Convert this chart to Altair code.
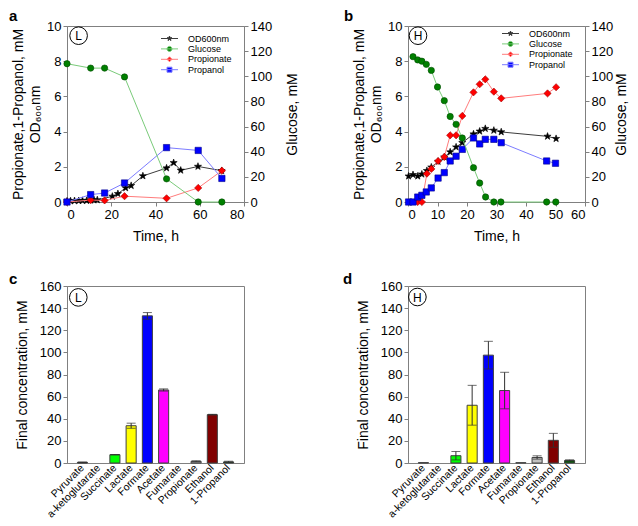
import altair as alt
import pandas as pd

FONT = "Liberation Sans"

# ---------------- data: panel a (L) ----------------
a_od_time = [0, 1.6, 3.4, 5.3, 7.0, 8.9, 10.7, 12.2, 13.7, 20.5, 23.0, 26.5, 29.0, 34.3, 45.0, 48.2, 51.4, 59.2, 69.9]
a_od = [0.05, 0.06, 0.07, 0.07, 0.08, 0.08, 0.10, 0.11, 0.12, 0.32, 0.47, 0.80, 0.93, 1.48, 1.93, 2.23, 1.80, 2.02, 1.78]
a_time = [0, 10.7, 17.0, 26.0, 45.0, 59.3, 70.0]
a_glucose = [110.0, 106.5, 106.5, 99.5, 18.4, 0, 0]
a_propionate = [0, 0.11, 0.09, 0.33, 0.21, 0.80, 1.78]
a_propanol = [0, 0.42, 0.51, 1.08, 3.09, 2.93, 1.34]

# ---------------- data: panel b (H) ----------------
b_od_time = [0.2, 1.7, 3.3, 4.7, 6.4, 7.9, 10.2, 12.3, 14.3, 16.3, 18.4, 22.2, 24.3, 26.2, 29.1, 31.6, 47.3, 50.2]
b_od = [1.47, 1.55, 1.47, 1.58, 1.78, 1.98, 2.30, 2.55, 2.84, 3.12, 3.37, 3.86, 4.02, 4.17, 4.07, 3.98, 3.73, 3.60]
b_glucose_time = [1.7, 3.3, 4.7, 6.2, 7.9, 10.0, 12.3, 14.3, 16.3, 18.4, 22.2, 24.3, 26.3, 29.1, 31.5, 47.0, 50.1]
b_glucose = [115.6, 113.0, 112.0, 109.5, 104.7, 91.5, 80.6, 68.0, 61.8, 50.9, 27.3, 15.1, 4.0, 0, 0, 0, 0]
b_propionate_time = [3.3, 4.7, 6.4, 7.9, 10.2, 12.3, 14.3, 16.3, 18.4, 22.2, 24.3, 26.2, 29.1, 31.6, 47.3, 50.2]
b_propionate = [0, 0, 1.61, 1.88, 2.33, 2.56, 3.79, 3.79, 4.89, 6.23, 6.69, 6.97, 6.27, 5.89, 6.17, 6.52]
b_propanol_time = [0.2, 1.7, 3.3, 4.7, 6.2, 7.9, 10.2, 12.3, 14.3, 16.3, 18.4, 22.2, 24.3, 26.2, 29.1, 31.6, 47.0, 50.0]
b_propanol = [0, 0, 0.28, 0.38, 0.57, 0.80, 1.36, 1.67, 2.33, 2.60, 2.99, 3.64, 3.30, 3.56, 3.56, 3.37, 2.33, 2.20]

# ---------------- data: panels c / d ----------------
categories = ["Pyruvate", "a-ketoglutarate", "Succinate", "Lactate", "Formate",
              "Acetate", "Fumarate", "Propionate", "Ethanol", "1-Propanol"]
c_values = [0.6, 0, 7.5, 33.7, 133.0, 66.0, 0, 1.5, 43.7, 1.0]
c_errors = [0.3, 0, 0.2, 2.3, 3.0, 1.0, 0, 0.5, 0.3, 0.6]
d_values = [0.3, 0, 6.6, 52.2, 97.5, 65.5, 0.3, 5.0, 20.5, 2.3]
d_errors = [0, 0, 3.8, 18.0, 12.5, 16.5, 0, 1.5, 6.3, 0.6]
bar_colors = ["#000000", "#ffffff", "#00ff00", "#ffff00", "#0000ff",
              "#ff00ff", "#ffffff", "#c0c0c0", "#800000", "#006400"]

# ---------------- styles ----------------
series = ["OD600nm", "Glucose", "Propionate", "Propanol"]
STAR = ("M0,-1L0.235,-0.324L0.951,-0.309L0.38,0.124L0.588,0.809L0,0.4"
        "L-0.588,0.809L-0.38,0.124L-0.951,-0.309L-0.235,-0.324Z")
CIRCLE = "M1,0A1,1,0,1,1,-1,0A1,1,0,1,1,1,0Z"
DIAMOND = "M-1,0L0,-1L1,0L0,1Z"
SQUARE = "M-1,-1L1,-1L1,1L-1,1Z"
SEG = "M-3.4,0L3.4,0"
line_colors = ["#3c3c3c", "#7acb7a", "#ff7c7c", "#7c7cff"]
fill_colors = ["#000000", "#008000", "#ff0000", "#0000ff"]
edge_colors = ["#000000", "#004a00", "#a00000", "#00008a"]
point_shapes = [STAR, "circle", "diamond", "square"]
point_sizes = [56, 40, 52, 40]
legend_shapes = [SEG + STAR, SEG + CIRCLE, SEG + DIAMOND, SEG + SQUARE]


def series_layers(t, v, idx, xs, xa, ys, ya):
    df = pd.DataFrame({"t": t, "v": v})
    base = alt.Chart(df).encode(
        x=alt.X("t:Q", scale=xs, axis=xa),
        y=alt.Y("v:Q", scale=ys, axis=ya),
    )
    line = base.mark_line(color=line_colors[idx], strokeWidth=1)
    pts = base.mark_point(filled=True, shape=point_shapes[idx], size=point_sizes[idx],
                          fill=fill_colors[idx], stroke=edge_colors[idx],
                          strokeWidth=0.6, opacity=1)
    return [line, pts]


def annotations(letter, tag, lx, ly, cx, cy):
    one = pd.DataFrame({"lab": [tag], "let": [letter]})
    circ = alt.Chart(one).mark_point(shape="circle", size=310, filled=False,
                                     stroke="black", strokeWidth=1, opacity=1).encode(
        x=alt.value(cx), y=alt.value(cy))
    txt = alt.Chart(one).mark_text(fontSize=12, font=FONT, color="black").encode(
        x=alt.value(cx), y=alt.value(cy + 0.5), text="lab:N")
    let = alt.Chart(one).mark_text(fontSize=15, fontWeight="bold", font=FONT, align="left",
                                   baseline="alphabetic", color="black").encode(
        x=alt.value(lx), y=alt.value(ly), text="let:N")
    return [circ, txt, let]


def line_panel(letter, tag, od_t, od_v, glc_t, glc_v, pr_t, pr_v, pa_t, pa_v,
               xmax, xstep, leg_x, leg_y, rt_pad, lx, ly, cx, cy):
    xs = alt.Scale(domain=[0, xmax], nice=False, zero=False)
    xa = alt.Axis(values=list(range(0, xmax + 1, xstep)), title="Time, h", titlePadding=8)
    ls = alt.Scale(domain=[0, 10], nice=False)
    la = alt.Axis(values=[0, 2, 4, 6, 8, 10], orient="left",
                  title=["Propionate,1-Propanol, mM", "OD₆₀₀nm"],
                  titleLineHeight=17, titlePadding=4)
    rs = alt.Scale(domain=[0, 140], nice=False)
    ra = alt.Axis(values=list(range(0, 141, 20)), orient="right", title="Glucose, mM",
                  titleAngle=270, titleBaseline="top", titlePadding=rt_pad)

    left_layers = []
    left_layers += series_layers(od_t, od_v, 0, xs, xa, ls, la)
    left_layers += series_layers(pr_t, pr_v, 2, xs, xa, ls, la)
    left_layers += series_layers(pa_t, pa_v, 3, xs, xa, ls, la)

    leg = alt.Legend(title=None, orient="none", legendX=leg_x, legendY=leg_y,
                     labelFontSize=9, labelFont=FONT, symbolSize=25, symbolStrokeWidth=1,
                     labelOffset=14, rowPadding=0.4, padding=0)
    leg_df = pd.DataFrame({"series": series, "t": [0.0] * 4, "v": [0.0] * 4})
    legend_layer = alt.Chart(leg_df).transform_filter("datum.t < 0").mark_point(
        filled=True, opacity=1).encode(
        x=alt.X("t:Q", scale=xs, axis=xa),
        y=alt.Y("v:Q", scale=ls, axis=la),
        fill=alt.Fill("series:N", scale=alt.Scale(domain=series, range=fill_colors), legend=leg),
        stroke=alt.Stroke("series:N", scale=alt.Scale(domain=series, range=line_colors), legend=leg),
        shape=alt.Shape("series:N", scale=alt.Scale(domain=series, range=legend_shapes), legend=leg),
    )
    left_layers.append(legend_layer)
    left_layers += annotations(letter, tag, lx, ly, cx, cy)

    right_layers = series_layers(glc_t, glc_v, 1, xs, xa, rs, ra)
    left = alt.layer(*left_layers)
    right = alt.layer(*right_layers)
    return alt.layer(left, right).resolve_scale(y="independent").properties(width=177, height=176)


def bar_panel(letter, tag, values, errors, lx, ly, cx, cy):
    df = pd.DataFrame({"cat": categories, "v": values, "err": errors, "col": bar_colors})
    xs = alt.Scale(domain=categories, paddingInner=0.38, paddingOuter=0.64)
    xa = alt.Axis(title=None, labelAngle=-45, labelAlign="right", labelBaseline="middle",
                  labelFontSize=10.5, ticks=False, tickSize=0, labelPadding=3)
    ys = alt.Scale(domain=[0, 160], nice=False)
    ya = alt.Axis(values=list(range(0, 161, 20)), title="Final concentration, mM", titlePadding=10)
    base = alt.Chart(df).encode(x=alt.X("cat:N", scale=xs, axis=xa))
    bars = base.transform_filter("datum.v > 0").mark_bar(stroke="#404040", strokeWidth=1).encode(
        y=alt.Y("v:Q", scale=ys, axis=ya),
        fill=alt.Fill("col:N", scale=None),
    )
    eb = base.transform_filter("datum.err > 0").transform_calculate(
        lo="datum.v - datum.err", hi="datum.v + datum.err")
    rule = eb.mark_rule(color="#303030", strokeWidth=1).encode(
        y=alt.Y("lo:Q", scale=ys, axis=ya), y2="hi:Q")
    cap_hi = eb.mark_tick(color="#303030", thickness=1, size=9).encode(
        y=alt.Y("hi:Q", scale=ys, axis=ya))
    cap_lo = eb.mark_tick(color="#303030", thickness=1, size=9).encode(
        y=alt.Y("lo:Q", scale=ys, axis=ya))
    layers = [bars, rule, cap_hi, cap_lo] + annotations(letter, tag, lx, ly, cx, cy)
    return alt.layer(*layers).properties(width=177, height=177)


pa = line_panel("a", "L", a_od_time, a_od, a_time, a_glucose, a_time, a_propionate,
                a_time, a_propanol, 80, 20, 98, 8, 14, -58, -5, 11.6, 9.7)
pb = line_panel("b", "H", b_od_time, b_od, b_glucose_time, b_glucose, b_propionate_time,
                b_propionate, b_propanol_time, b_propanol, 60, 10, 98, 3, 2, -64, -5, 10, 9.7)
pc = bar_panel("c", "L", c_values, c_errors, -58, -2, 11.3, 11.4)
pd_ = bar_panel("d", "H", d_values, d_errors, -65, -2, 9.4, 11)

chart = alt.concat(
    pa, pb, pc, pd_, columns=2, spacing={"row": 84, "column": 164}, bounds="flush"
).resolve_scale(
    x="independent", y="independent", fill="independent", stroke="independent", shape="independent"
).properties(
    padding=0
).configure(
    font=FONT
).configure_view(
    stroke="#808080", strokeWidth=1
).configure_axis(
    domainColor="#808080", tickColor="#808080", tickSize=4, grid=False,
    labelFont=FONT, labelFontSize=13, labelColor="black", labelPadding=2,
    titleFont=FONT, titleFontSize=14, titleFontWeight="normal", titleColor="black",
)

chart.save("out.html", embed_options={"renderer": "svg", "actions": False})
